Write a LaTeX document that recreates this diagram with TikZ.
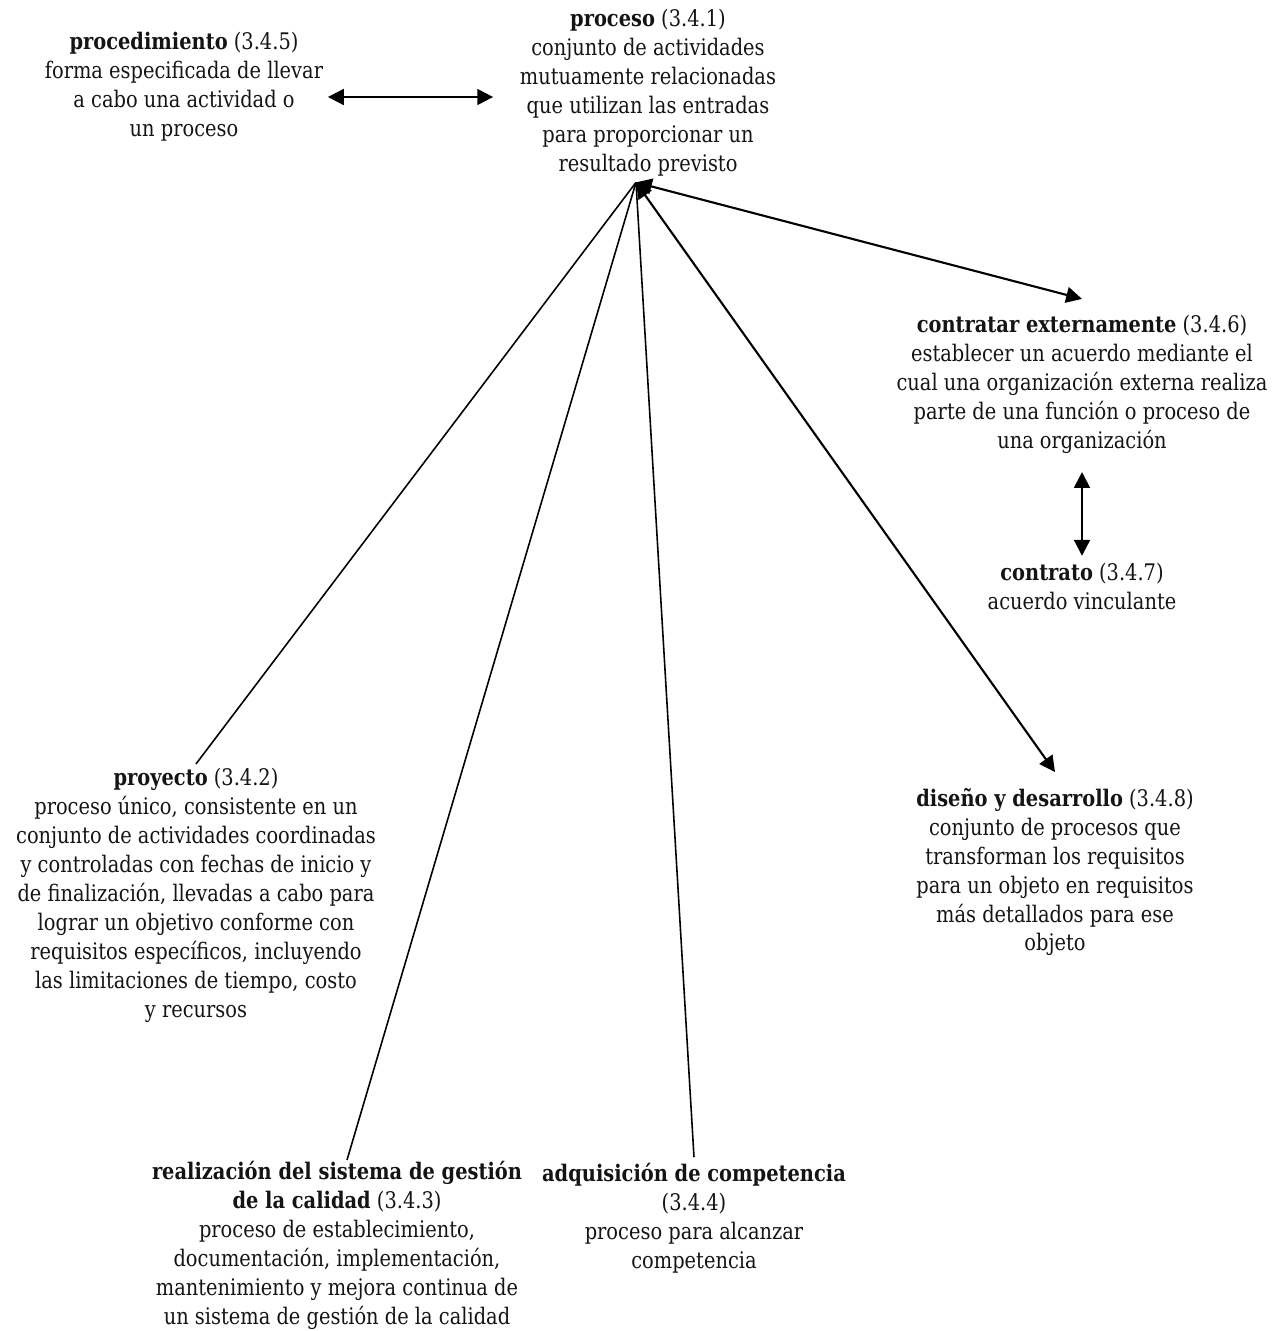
\documentclass[tikz,border=0pt]{standalone}
\usepackage{fontspec}
\setmainfont[FakeStretch=0.85]{DejaVu Serif}
\usepackage{tikz}
\usetikzlibrary{arrows.meta,calc}

\begin{document}
\begin{tikzpicture}[x=0.02cm, y=-0.02cm,
	term/.style={align=center, inner sep=2pt, text=black!92, font=\fontsize{13}{16.5}\selectfont},
	link/.style={line width=0.9pt},
	both/.style={line width=1.2pt, {Triangle[length=9pt,width=9pt]}-{Triangle[length=9pt,width=9pt]}}]
			%%%%% START %%%%%
			
			\useasboundingbox (0, 0) rectangle (1276, 1331);
			
			\node[term] (proceso) at (648, 93) {\textbf{proceso} (3.4.1)\\conjunto de actividades\\mutuamente relacionadas\\que utilizan las entradas\\para proporcionar un\\resultado previsto};
			\node[term] (procedimiento) at (184, 87) {\textbf{procedimiento} (3.4.5)\\forma especificada de llevar\\a cabo una actividad o\\un proceso};
			
			\node[term] (contratar) at (1082, 384) {\textbf{contratar externamente} (3.4.6)\\establecer un acuerdo mediante el\\cual una organización externa realiza\\parte de una función o proceso de\\una organización};
			\node[term] (contrato) at (1082, 586) {\textbf{contrato} (3.4.7)\\acuerdo vinculante};
			
			\node[term] (proyecto) at (196, 895) {\textbf{proyecto} (3.4.2)\\proceso único, consistente en un\\conjunto de actividades coordinadas\\y controladas con fechas de inicio y\\de finalización, llevadas a cabo para\\lograr un objetivo conforme con\\requisitos específicos, incluyendo\\las limitaciones de tiempo, costo\\y recursos};
			\node[term] (diseno) at (1055, 872) {\textbf{diseño y desarrollo} (3.4.8)\\conjunto de procesos que\\transforman los requisitos\\para un objeto en requisitos\\más detallados para ese\\objeto};
			
			\node[term] (realizacion) at (337, 1245) {\textbf{realización del sistema de gestión}\\\textbf{de la calidad} (3.4.3)\\proceso de establecimiento,\\documentación, implementación,\\mantenimiento y mejora continua de\\un sistema de gestión de la calidad};
			\node[term] (adquisicion) at (694, 1218) {\textbf{adquisición de competencia}\\(3.4.4)\\proceso para alcanzar\\competencia};
			
			\coordinate (hub) at ($(proceso.south)+(-12, 2)$);
			
			\draw[both] ($(procedimiento.east)+(1, 10)$) -- ($(proceso.west |- procedimiento.east)+(-23, 10)$);
			\draw[both] (hub) -- ($(contratar.north)+(0, -12)$);
			\draw[both] ($(contratar.south)+(0, 15)$) -- ($(contrato.north)+(0, -3)$);
			\draw[both] (hub) -- ($(diseno.north)+(0, -12)$);
			
			\draw[link] (proyecto.north) -- (hub);
			\draw[link] ($(realizacion.north)+(10, 3)$) -- (hub);
			\draw[link] ($(adquisicion.north)+(0, -2)$) -- (hub);
			
			%%%%% END %%%%%
\end{tikzpicture}
\end{document}
